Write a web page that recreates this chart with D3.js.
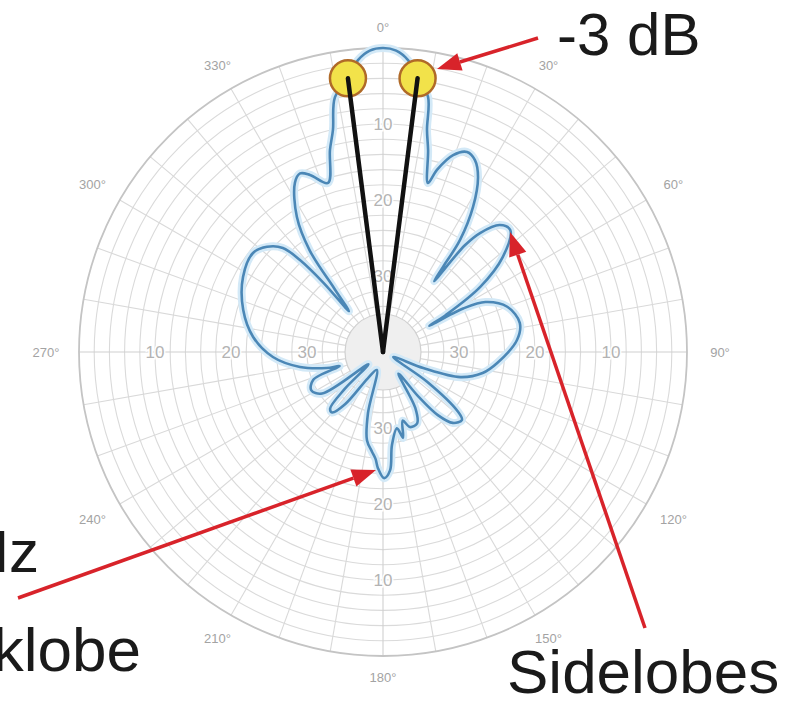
<!DOCTYPE html>
<html><head><meta charset="utf-8">
<script src="https://cdn.jsdelivr.net/npm/d3@7"></script>
<style>html,body{margin:0;padding:0;background:#fff;}svg{display:block;}</style>
</head><body><svg id="c" width="812" height="707"></svg>
<script>
// ---- data ----
const angleTicks = [0, 30, 60, 90, 120, 150, 180, 210, 240, 270, 300, 330];
const angleTickLabels = ["0°", "30°", "60°", "90°", "120°", "150°", "180°", "210°", "240°", "270°", "300°", "330°"];
const ringTicks = [-10, -20, -30];
const ringTickLabels = ["10", "20", "30"];
const ringAxisAngles = [0, 90, 180, 270];
// antenna pattern: angle (deg, clockwise from 0°) and gain (dB)
const patternAngles = [0, 2.5, 4.9, 7.2, 10, 11.2, 12.6, 14.9, 16.5, 19.6, 22.8, 25.6, 28.5, 31.8, 34.5, 35.2, 35.8,
  37.5, 39.2, 42.6, 46.2, 51.6, 56.2, 59.5, 60.5, 61.5, 64, 70, 78, 84.9, 95.5, 101.9, 108, 111.8, 116,
  124, 128.4, 130.7, 135.4, 139, 141.5, 144.5, 150, 154.4, 160.2, 164, 166.9, 169.6, 174.5, 176.6, 179.5,
  182.5, 184, 186.3, 190.3, 193.8, 199, 210, 216, 220, 223, 226, 230, 235.7, 241.8, 248.2, 252, 254.1,
  259.8, 267.4, 276.6, 286.7, 298.2, 307.3, 312.2, 316.1, 317.9, 319.3, 320.2, 322.5, 324.2, 327.5, 332.5,
  335.1, 337.6, 342, 345.3, 347.3, 349.3, 352.7, 355.1, 357.5];
const patternGain = [0, -0.3, -1.45, -3.7, -5.9, -10.2, -12.8, -17, -15, -12.5, -11.45, -12, -13.8, -17.5, -22.1, -26.3, -28.5,
  -22.3, -19.8, -17.3, -16.8, -19.9, -24.6, -30.4, -33, -28, -25, -22.6, -21.6, -22.3, -24.9, -26.6, -29.3, -34.3, -38.5,
  -33, -27.5, -26.3, -26.9, -29, -32.5, -36.5, -31.5, -29.6, -29.5, -30.6, -28.4, -29.8, -27.7, -24.4, -23.4,
  -24.7, -25.9, -26.8, -28.2, -31.7, -37.5, -36, -31.5, -29.6, -29.8, -33, -37.5, -30.3, -29.3, -30.1, -34, -32.3,
  -28.9, -25.5, -22.8, -20.8, -19.1, -18.5, -19.4, -21.0, -23.7, -28, -33, -29.5, -23.5, -18.9, -14.9,
  -14.1, -14.8, -16.6, -12.5, -10.05, -5.9, -3.7, -1.45, -0.3];
const halfPowerAngles = [352.7, 7.2];
const halfPowerGain = [-3.7, -3.7];
const annotationTexts = ["-3 dB", "Sidelobes", "Backlobe", "Hz"];

// ---- layout ----
const cx = 383, cy = 352, R = 304;
const svg = d3.select("#c");
const r = d3.scaleLinear().domain([-40, 0]).range([0, R]);
const a = d3.scaleLinear().domain([0, 360]).range([0, 2 * Math.PI]);
const xy = (deg, db) => { const t = a(deg), rr = r(db); return [cx + rr * Math.sin(t), cy - rr * Math.cos(t)]; };

const g = svg.append("g").attr("transform", `translate(${cx},${cy})`);
// rings
g.selectAll("circle.ring").data(d3.range(-34, 0, 2)).join("circle")
  .attr("class", "ring").attr("r", d => r(d)).attr("fill", "none")
  .attr("stroke", "#dadada").attr("stroke-width", 1.1);
// spokes
g.selectAll("line.spoke").data(d3.range(0, 360, 10)).join("line")
  .attr("x1", d => r(-35) * Math.sin(a(d))).attr("y1", d => -r(-35) * Math.cos(a(d)))
  .attr("x2", d => R * Math.sin(a(d))).attr("y2", d => -R * Math.cos(a(d)))
  .attr("stroke", d => d % 90 === 0 ? "#cfcfcf" : "#d9d9d9").attr("stroke-width", 1.1);
// inner disk
g.append("circle").attr("r", r(-35)).attr("fill", "#efefef").attr("stroke", "#d0d0d0").attr("stroke-width", 1.2);
// outer circle
g.append("circle").attr("r", R).attr("fill", "none").attr("stroke", "#c4c4c4").attr("stroke-width", 1.8);

// ring labels
const ringLab = [];
ringAxisAngles.forEach(ang => ringTicks.forEach((v, i) => ringLab.push({ ang, v, t: ringTickLabels[i] })));
svg.append("g").selectAll("text").data(ringLab).join("text")
  .attr("x", d => xy(d.ang, d.v)[0]).attr("y", d => xy(d.ang, d.v)[1])
  .attr("text-anchor", "middle").attr("dominant-baseline", "central")
  .attr("font-family", "Liberation Sans, Arial, sans-serif").attr("font-size", 17)
  .attr("fill", "#b3b3b3").attr("stroke", "#fff").attr("stroke-width", 3).attr("paint-order", "stroke")
  .text(d => d.t);

// angle labels
svg.append("g").selectAll("text").data(angleTicks).join("text")
  .attr("x", d => cx + (R + 21 + Math.abs(Math.sin(a(d))) * 12) * Math.sin(a(d)))
  .attr("y", d => cy - (R + 21 + Math.abs(Math.sin(a(d))) * 12) * Math.cos(a(d)))
  .attr("text-anchor", "middle").attr("dominant-baseline", "central")
  .attr("font-family", "Liberation Sans, Arial, sans-serif").attr("font-size", 13)
  .attr("fill", "#a3a3a3")
  .text((d, i) => angleTickLabels[i]);

// pattern
const pts = patternAngles.map((ang, i) => ({ ang, db: patternGain[i] }));
const line = d3.lineRadial().angle(d => a(d.ang)).radius(d => r(d.db))
  .curve(d3.curveCatmullRomClosed.alpha(0.5));
g.append("path").attr("d", line(pts)).attr("fill", "none")
  .attr("stroke", "#d3e9f7").attr("stroke-width", 8).attr("stroke-linejoin", "round");
g.append("path").attr("d", line(pts)).attr("fill", "none")
  .attr("stroke", "#4b87b6").attr("stroke-width", 2.6).attr("stroke-linejoin", "round");

// half-power markers
const hp = halfPowerAngles.map((ang, i) => xy(ang, halfPowerGain[i]));
svg.append("g").selectAll("circle").data(hp).join("circle")
  .attr("cx", d => d[0]).attr("cy", d => d[1]).attr("r", 18)
  .attr("fill", "#f2e24a").attr("stroke", "#b06a28").attr("stroke-width", 2.5);
svg.append("g").selectAll("line").data(hp).join("line")
  .attr("x1", cx).attr("y1", cy).attr("x2", d => d[0]).attr("y2", d => d[1])
  .attr("stroke", "#111").attr("stroke-width", 4.5).attr("stroke-linecap", "round");

// arrows
const red = "#d8232a";
function arrow(x1, y1, x2, y2) {
  const ang = Math.atan2(y2 - y1, x2 - x1), L = 24, Wd = 9;
  const bx = x2 - L * Math.cos(ang), by = y2 - L * Math.sin(ang);
  svg.append("line").attr("x1", x1).attr("y1", y1).attr("x2", bx).attr("y2", by)
    .attr("stroke", red).attr("stroke-width", 3.5);
  svg.append("path").attr("d", `M${x2},${y2}L${bx + Wd * Math.sin(ang)},${by - Wd * Math.cos(ang)}L${bx - Wd * Math.sin(ang)},${by + Wd * Math.cos(ang)}Z`)
    .attr("fill", red);
}
arrow(538, 38, 437, 69);
arrow(645, 628, 510, 232);
arrow(18, 598, 376, 470);

// annotation texts
const font = "Liberation Sans, Arial, sans-serif";
svg.append("text").attr("x", 557).attr("y", 55).attr("font-family", font).attr("font-size", 60).attr("fill", "#1a1a1a").text(annotationTexts[0]);
svg.append("text").attr("x", 507).attr("y", 693).attr("font-family", font).attr("font-size", 62).attr("fill", "#1a1a1a").text(annotationTexts[1]);
svg.append("text").attr("x", 141).attr("y", 671).attr("text-anchor", "end").attr("font-family", font).attr("font-size", 62).attr("fill", "#1a1a1a").text(annotationTexts[2]);
svg.append("text").attr("x", 39).attr("y", 572).attr("text-anchor", "end").attr("font-family", font).attr("font-size", 60).attr("fill", "#1a1a1a").text(annotationTexts[3]);
</script></body></html>
